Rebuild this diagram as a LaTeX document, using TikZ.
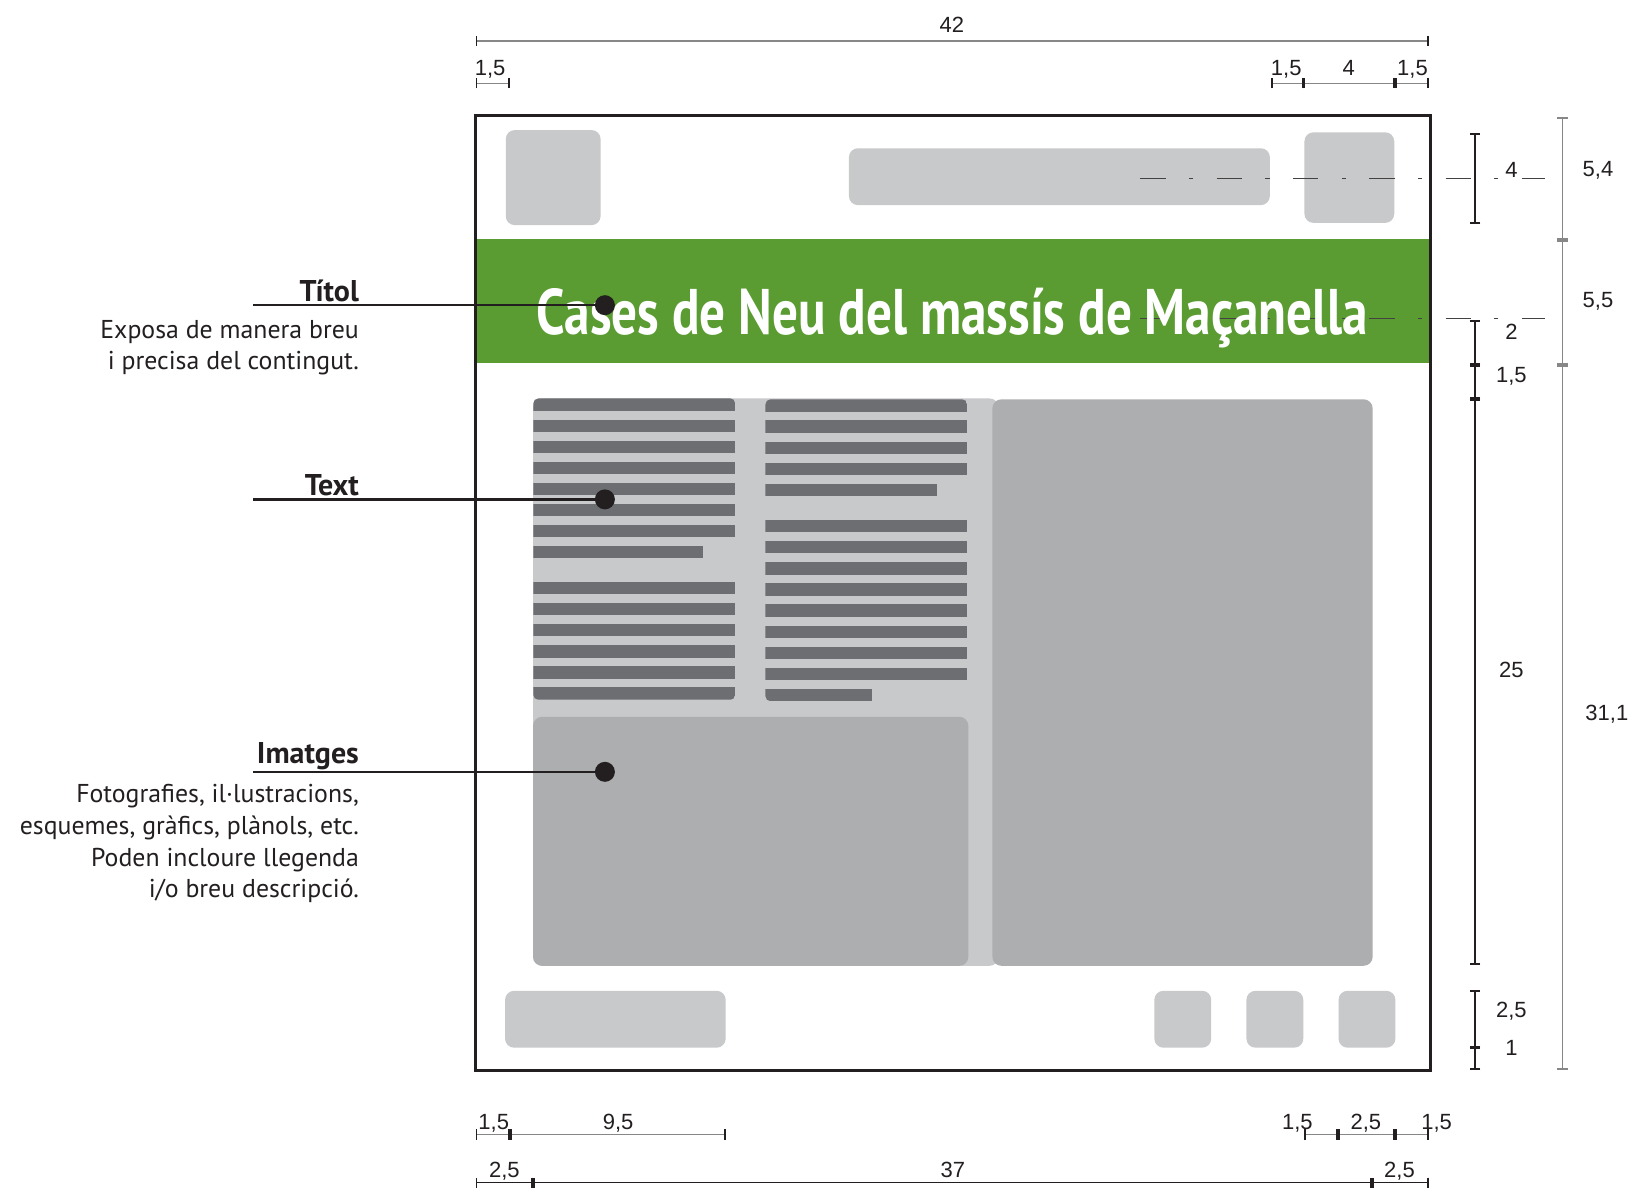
\documentclass[tikz,border=0pt]{standalone}
\usepackage{fontspec}
\setmainfont{PT Sans}
\newfontfamily\titlefont{PT Sans}
\newfontfamily\dimfont{Liberation Sans}
\usepackage{graphicx}
\usetikzlibrary{arrows.meta, positioning, calc}
\definecolor{mydark}{RGB}{35,31,32}
\definecolor{mygreen}{RGB}{90,156,50}
\definecolor{boxgray}{RGB}{200,201,203}
\definecolor{imggray}{RGB}{173,174,176}
\definecolor{linegray}{RGB}{109,110,113}
\definecolor{dimgray}{RGB}{135,135,135}
\tikzset{
  slot/.style={fill=boxgray, rounded corners=9pt},
  photo/.style={fill=imggray, rounded corners=9pt},
  txtrow/.style={fill=linegray},
  axisline/.style={draw=mydark!85, line width=1.5pt, dash pattern=on 25.2pt off 23.5pt on 4.1pt off 23.5pt},
  dimg/.style={line width=1.2pt, color=dimgray, {Bar[width=10.5pt,line width=1.8pt,color=mydark]}-{Bar[width=10.5pt,line width=1.8pt,color=mydark]}},
  dimgg/.style={line width=1.3pt, color=dimgray, {Bar[width=10.5pt,line width=1.8pt]}-{Bar[width=10.5pt,line width=1.8pt]}},
  dimk/.style={line width=1.1pt, color=mydark, {Bar[width=10.5pt,line width=1.8pt]}-{Bar[width=10.5pt,line width=1.8pt]}},
  dimlabel/.style={font=\dimfont\fontsize{22}{24}\selectfont, inner sep=0pt, text height=15.8pt, text depth=0pt, text=mydark},
  heading/.style={font=\fontsize{30}{34}\selectfont\bfseries, anchor=base east, inner sep=0pt, text=mydark},
  descr/.style={font=\fontsize{25.8}{31.7}\selectfont, align=right, anchor=base east, inner sep=0pt, text=mydark},
  leader/.style={draw=mydark, line width=2.4pt},
  pin/.style={circle, fill=mydark, minimum size=20pt, inner sep=0pt}
}

\begin{document}
\begin{tikzpicture}[x=22.74pt, y=22.74pt]
  \path[use as bounding box, fill=white] (-20.91,-5.16) rectangle (51.25,47.08);

  % Header slots
  \fill[slot] (1.33,37.18) rectangle (5.5,41.36);
  \fill[slot] (16.42,38.06) rectangle (34.93,40.56);
  \fill[slot] (36.45,37.28) rectangle (40.4,41.26);

  % Title band
  \fill[mygreen] (0,31.1) rectangle (42,36.57);

  % Content area
  \fill[slot] (2.53,4.61) rectangle (23,29.56);
  \fill[photo] (22.73,4.61) rectangle (39.45,29.52);
  \fill[photo] (2.53,4.61) rectangle (21.67,15.56);

  % Text columns
  \begin{scope}
    \clip[rounded corners=5pt] (2.54,29.56) rectangle (11.43,16.31);
    \foreach \i in {0,...,6}
      \fill[txtrow] (2.54,{29.56-0.928*\i}) rectangle ++(8.89,-0.54);
    \fill[txtrow] (2.54,{29.56-0.928*7}) rectangle (9.99,{29.02-0.928*7});
    \foreach \i in {0,...,5}
      \fill[txtrow] (2.54,{21.49-0.928*\i}) rectangle ++(8.89,-0.54);
  \end{scope}
  \begin{scope}
    \clip[rounded corners=5pt] (12.75,29.52) rectangle (21.62,16.246);
    \foreach \i in {0,...,3}
      \fill[txtrow] (12.75,{29.52-0.928*\i}) rectangle ++(8.87,-0.54);
    \fill[txtrow] (12.75,{29.52-0.928*4}) rectangle (20.28,{28.98-0.928*4});
    \foreach \i in {0,...,7}
      \fill[txtrow] (12.75,{24.21-0.928*\i}) rectangle ++(8.87,-0.54);
    \fill[txtrow] (12.75,{24.21-0.928*8}) rectangle (17.45,{23.67-0.928*8});
  \end{scope}

  % Footer slots
  \fill[slot] (1.3,1.01) rectangle (11.0,3.51);
  \foreach \x in {29.85,33.9,37.95}
    \fill[slot] (\x,1.01) rectangle ++(2.5,2.5);

  % Axis lines
  \draw[axisline] (29.24,39.24) -- (47.03,39.24);
  \draw[axisline] (29.24,33.08) -- (47.03,33.08);

  \node[anchor=base, inner sep=0pt, text=white] (title) at (20.97,32.35)
    {\resizebox{831.6pt}{46pt}{\titlefont\bfseries\vphantom{C}\smash{Cases de Neu del massís de Maçanella}}};

  % Poster frame
  \draw[mydark, line width=3.6pt] (0,0) rectangle (42,42);

  % Dimensions (top)
  \draw[dimg] (0,45.28) -- (41.92,45.28);
  \node[dimlabel] (d42) at (20.95,45.98) {42};
  \draw[dimg] (0,43.42) -- (1.51,43.42);
  \node[dimlabel] (dtl) at (0.64,44.09) {1,5};
  \draw[dimg] (34.97,43.42) -- (36.4,43.42);
  \draw[dimg] (36.4,43.42) -- (40.44,43.42);
  \draw[dimg] (40.44,43.42) -- (41.92,43.42);
  \node[dimlabel] (dtr1) at (35.65,44.09) {1,5};
  \node[dimlabel] (dtr2) at (38.4,44.09) {4};
  \node[dimlabel] (dtr3) at (41.2,44.09) {1,5};

  % Dimensions (right)
  \draw[dimk] (43.95,41.24) -- (43.95,37.23);
  \draw[dimk] (43.95,33.0) -- (43.95,31.03);
  \draw[dimk] (43.95,31.03) -- (43.95,29.53);
  \draw[dimk] (43.95,29.53) -- (43.95,4.65);
  \draw[dimk] (43.95,3.54) -- (43.95,1.02);
  \draw[dimk] (43.95,1.02) -- (43.95,0.04);
  \node[dimlabel] (dr1) at (45.55,39.6) {4};
  \node[dimlabel] (dr2) at (45.55,32.49) {2};
  \node[dimlabel] (dr3) at (45.55,30.59) {1,5};
  \node[dimlabel] (dr4) at (45.55,17.62) {25};
  \node[dimlabel] (dr5) at (45.55,2.69) {2,5};
  \node[dimlabel] (dr6) at (45.55,1.0) {1};
  \draw[dimgg] (47.8,41.92) -- (47.8,36.53);
  \draw[dimgg] (47.8,36.53) -- (47.8,31.03);
  \draw[dimgg] (47.8,31.03) -- (47.8,0.04);
  \node[dimlabel] (dro1) at (49.36,39.67) {5,4};
  \node[dimlabel] (dro2) at (49.36,33.92) {5,5};
  \node[dimlabel] (dro3) at (49.75,15.74) {31,1};

  % Dimensions (bottom)
  \draw[dimg] (0,-2.8) -- (1.52,-2.8);
  \draw[dimg] (1.52,-2.8) -- (11.0,-2.8);
  \node[dimlabel] (db1) at (0.8,-2.22) {1,5};
  \node[dimlabel] (db2) at (6.27,-2.22) {9,5};
  \draw[dimg] (36.42,-2.8) -- (37.93,-2.8);
  \draw[dimg] (37.93,-2.8) -- (40.44,-2.8);
  \draw[dimg] (40.44,-2.8) -- (41.92,-2.8);
  \node[dimlabel] (db3) at (36.14,-2.22) {1,5};
  \node[dimlabel] (db4) at (39.15,-2.22) {2,5};
  \node[dimlabel] (db5) at (42.26,-2.22) {1,5};
  \draw[dimk] (0,-4.93) -- (2.53,-4.93);
  \draw[dimk] (2.53,-4.93) -- (39.42,-4.93);
  \draw[dimk] (39.42,-4.93) -- (41.92,-4.93);
  \node[dimlabel] (dbb1) at (1.27,-4.37) {2,5};
  \node[dimlabel] (dbb2) at (20.99,-4.37) {37};
  \node[dimlabel] (dbb3) at (40.63,-4.37) {2,5};

  % Callouts (multi-line text sits on its last baseline)
  \node[heading] (titolLbl) at (-5.12,33.82) {Títol};
  \node[descr] (titolTxt) at (-5.12,30.81) {Exposa de manera breu\\i precisa del contingut.};
  \node[heading] (textLbl) at (-5.12,25.31) {Text};
  \node[heading] (imgLbl) at (-5.12,13.51) {Imatges};
  \node[descr] (imgTxt) at (-5.12,7.6) {Fotografies, il·lustracions,\\esquemes, gràfics, plànols, etc.\\Poden incloure llegenda\\i/o breu descripció.};

  \coordinate (titolEnd) at (-9.78,33.66);
  \node[pin] (titolPin) at (5.69,33.66) {};
  \draw[leader] (titolEnd) -- (titolPin.center);
  \coordinate (textEnd) at (-9.78,25.12);
  \node[pin] (textPin) at (5.69,25.12) {};
  \draw[leader] (textEnd) -- (textPin.center);
  \coordinate (imgEnd) at (-9.78,13.14);
  \node[pin] (imgPin) at (5.69,13.14) {};
  \draw[leader] (imgEnd) -- (imgPin.center);
\end{tikzpicture}
\end{document}
